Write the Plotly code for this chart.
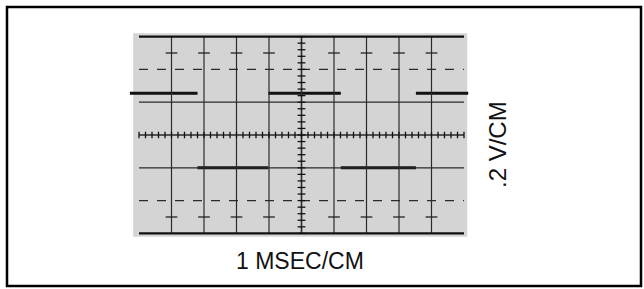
import plotly.graph_objects as go
import numpy as np

# Waveform (square wave), in graticule divisions
edges = [-0.28, 1.80, 3.98, 6.21, 8.52, 10.13]   # x positions of transitions (div)
levels = [1.27, -1.0, 1.27, -1.0, 1.27]          # y level of each segment (div)

x_label = "1 MSEC/CM"
y_label = ".2 V/CM"

W, H = 644, 289
# pixel mapping: 32.5 px per horizontal div, 32.8 px per vertical div
px_x0, px_per_x = 139.0, 32.5
px_y0, px_per_y = 135.0, 32.8
xr = [-px_x0 / px_per_x, (W - px_x0) / px_per_x]
yr = [-(H - px_y0) / px_per_y, px_y0 / px_per_y]

fig = go.Figure()

shapes = []
# stippled grey screen
shapes.append(dict(type="rect", xref="x", yref="y", x0=-0.18, x1=10.1, y0=-3.1, y1=3.1,
                   fillcolor="#d4d4d4", line=dict(width=0), layer="below"))
# vertical graticule lines
for gx in range(1, 10):
    shapes.append(dict(type="line", xref="x", yref="y", x0=gx, x1=gx, y0=-3, y1=3,
                       line=dict(color="#2a2a2a", width=1.2 if gx != 5 else 1.6)))
# horizontal graticule lines
for gy in [-3, -2, -1, 0, 1, 2, 3]:
    dash = "dash" if gy in (-2, 2) else "solid"
    w = 2.2 if gy in (-3, 3) else 1.3
    col = "#111111" if gy in (-3, 3) else "#2a2a2a"
    shapes.append(dict(type="line", xref="x", yref="y", x0=0, x1=10, y0=gy, y1=gy,
                       line=dict(color=col, width=w, dash=dash)))
# minor ticks on centre axes
for t in np.arange(-3, 3.01, 0.2):
    shapes.append(dict(type="line", xref="x", yref="y", x0=4.88, x1=5.12, y0=t, y1=t,
                       line=dict(color="#111111", width=1.3)))
for t in np.arange(0, 10.01, 0.2):
    shapes.append(dict(type="line", xref="x", yref="y", x0=t, x1=t, y0=-0.1, y1=0.1,
                       line=dict(color="#111111", width=1.3)))
# small crosses near top and bottom
for gx in [1, 2, 3, 4, 6, 7, 8, 9]:
    for gy in (2.5, -2.5):
        shapes.append(dict(type="line", xref="x", yref="y", x0=gx - 0.18, x1=gx + 0.18, y0=gy, y1=gy,
                           line=dict(color="#222222", width=1.3)))
# outer border
shapes.append(dict(type="rect", xref="paper", yref="paper",
                   x0=7 / W, x1=641 / W, y0=1 - 286 / H, y1=1 - 7 / H,
                   line=dict(color="#000000", width=2.5), fillcolor="rgba(0,0,0,0)"))

# waveform segments
wx, wy = [], []
for i, lv in enumerate(levels):
    wx += [edges[i], edges[i + 1], None]
    wy += [lv, lv, None]
fig.add_trace(go.Scatter(x=wx, y=wy, mode="lines", line=dict(color="#111111", width=3),
                         hoverinfo="skip", showlegend=False))

fig.update_layout(
    width=W, height=H, margin=dict(l=0, r=0, t=0, b=0),
    paper_bgcolor="white", plot_bgcolor="white",
    shapes=shapes,
    xaxis=dict(range=xr, visible=False, fixedrange=True),
    yaxis=dict(range=yr, visible=False, fixedrange=True),
    annotations=[
        dict(text=x_label, xref="paper", yref="paper", x=300 / W, y=1 - 261 / H,
             showarrow=False, font=dict(family="Liberation Sans", size=23, color="#111111"),
             xanchor="center", yanchor="middle"),
        dict(text=y_label, xref="paper", yref="paper", x=497 / W, y=1 - 145 / H,
             showarrow=False, textangle=-90, font=dict(family="Liberation Sans", size=24, color="#111111"),
             xanchor="center", yanchor="middle"),
    ],
)
fig.write_html("out.html", config={"displayModeBar": False},
               post_script="document.body.style.margin='0px';document.body.style.overflow='hidden';")
